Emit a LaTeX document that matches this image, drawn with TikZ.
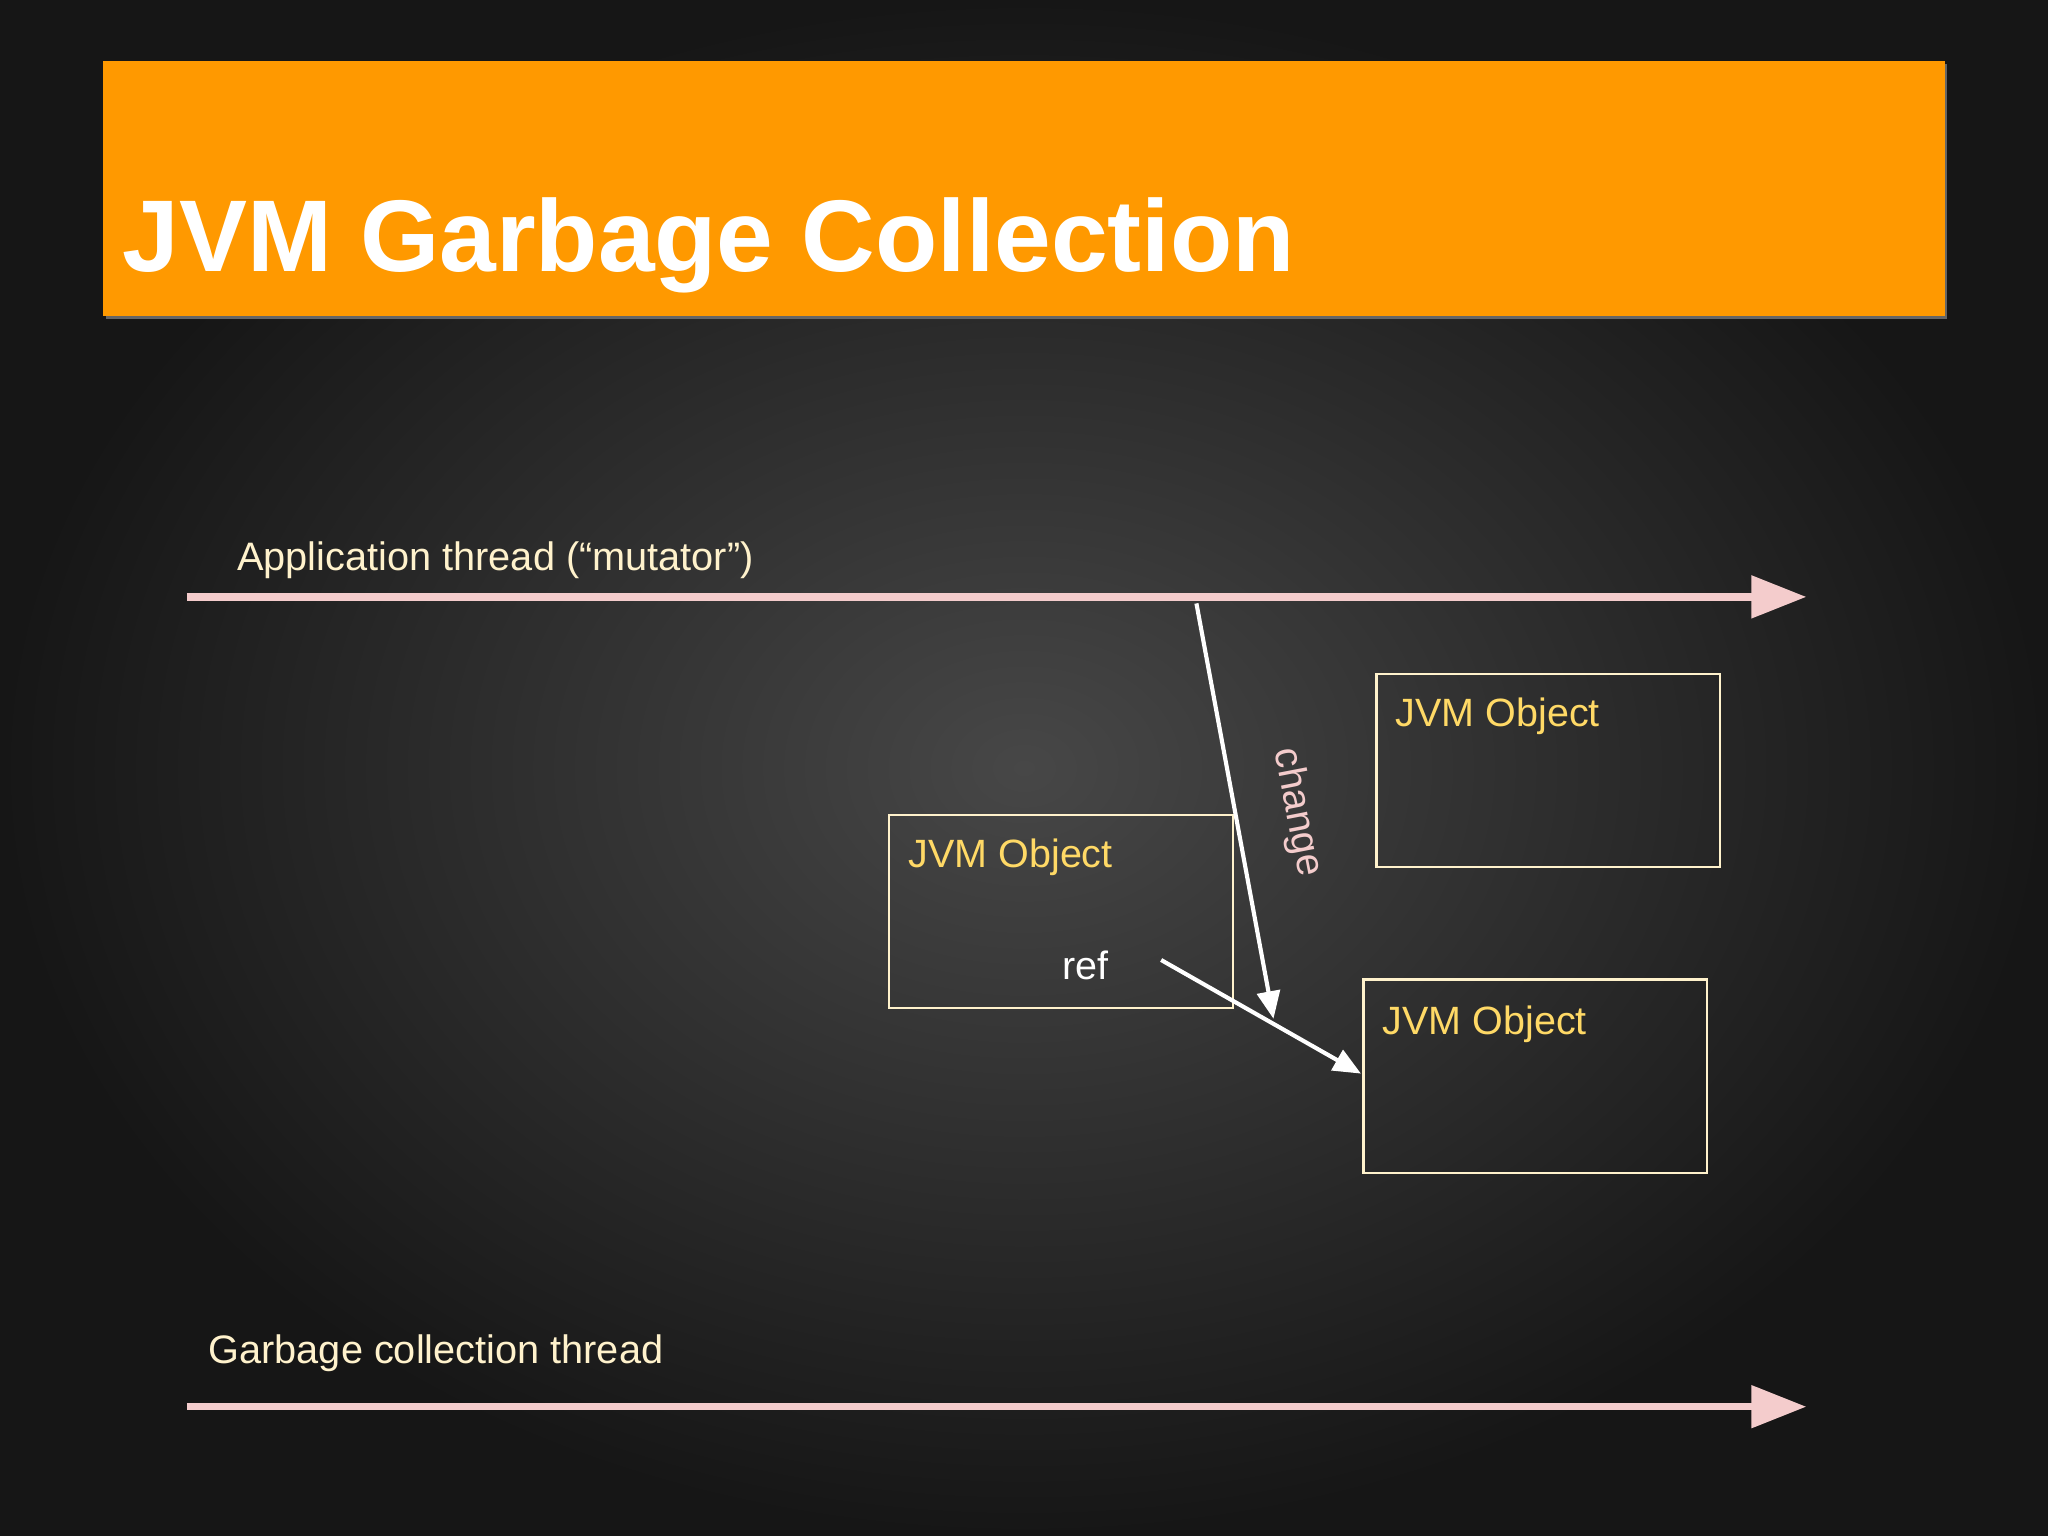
\documentclass[tikz,border=0pt]{standalone}
\usepackage{fontspec}
\setmainfont{Liberation Sans}
\usetikzlibrary{arrows.meta}
\definecolor{bannerc}{HTML}{FF9900}
\definecolor{pinkc}{HTML}{F4CCCC}
\definecolor{creamc}{HTML}{FFF2CC}
\definecolor{yelc}{HTML}{FFD966}
\definecolor{bgin}{HTML}{474747}
\definecolor{bgout}{HTML}{161616}
\tikzset{
  thread/.style={pinkc, line width=1.6pt, -{Triangle[length=12pt,width=9pt]}},
  lbl/.style={creamc, anchor=base west, font=\fontsize{8.65}{10}\selectfont, inner sep=0},
  objbox/.style={draw=creamc, line width=0.5pt, minimum width=2.63cm, minimum height=1.48cm, anchor=north west},
  objtxt/.style={yelc, anchor=base west, font=\fontsize{8.6}{10}\selectfont, inner sep=0},
  wire/.style={white, line width=0.9pt, -{Triangle[length=6pt,width=5pt]}}
}
\begin{document}
\begin{tikzpicture}
\useasboundingbox (0,0) rectangle (15.68,-11.76);
\shade[inner color=bgin, outer color=bgout] (0,0) rectangle (15.68,-11.76);
\fill[black!60] (0.81,-0.49) rectangle (14.91,-2.44);
\fill[bannerc] (0.79,-0.47) rectangle (14.89,-2.42);
\node[white, anchor=base west, inner sep=0, font=\bfseries\fontsize{22.2}{26}\selectfont] (title) at (0.93,-2.08) {JVM Garbage Collection};
\coordinate (a1) at (1.43,-4.57); \coordinate (a2) at (13.83,-4.57);
\draw[thread] (a1) -- (a2);
\node[lbl] (al) at (1.81,-4.37) {Application thread (“mutator”)};
\coordinate (g1) at (1.43,-10.77); \coordinate (g2) at (13.83,-10.77);
\draw[thread] (g1) -- (g2);
\node[lbl] (gl) at (1.59,-10.44) {Garbage collection thread};
\node[objbox] (b1) at (6.80,-6.23) {};
\node[objbox] (b2) at (10.53,-5.15) {};
\node[objbox] (b3) at (10.43,-7.49) {};
\node[objtxt] (t1) at (6.95,-6.64) {JVM Object};
\node[objtxt] (t2) at (10.68,-5.56) {JVM Object};
\node[objtxt] (t3) at (10.58,-7.92) {JVM Object};
\node[white, anchor=base west, inner sep=0, font=\fontsize{8.6}{10}\selectfont] (ref) at (8.13,-7.50) {ref};
\coordinate (c1) at (9.16,-4.62); \coordinate (c2) at (9.75,-7.80);
\draw[wire] (c1) -- (c2);
\coordinate (r1) at (8.89,-7.35); \coordinate (r2) at (10.42,-8.22);
\draw[wire] (r1) -- (r2);
\node[pinkc, rotate=-79, font=\fontsize{8.6}{10}\selectfont, inner sep=0] (chg) at (9.93,-6.22) {change};
\end{tikzpicture}
\end{document}
